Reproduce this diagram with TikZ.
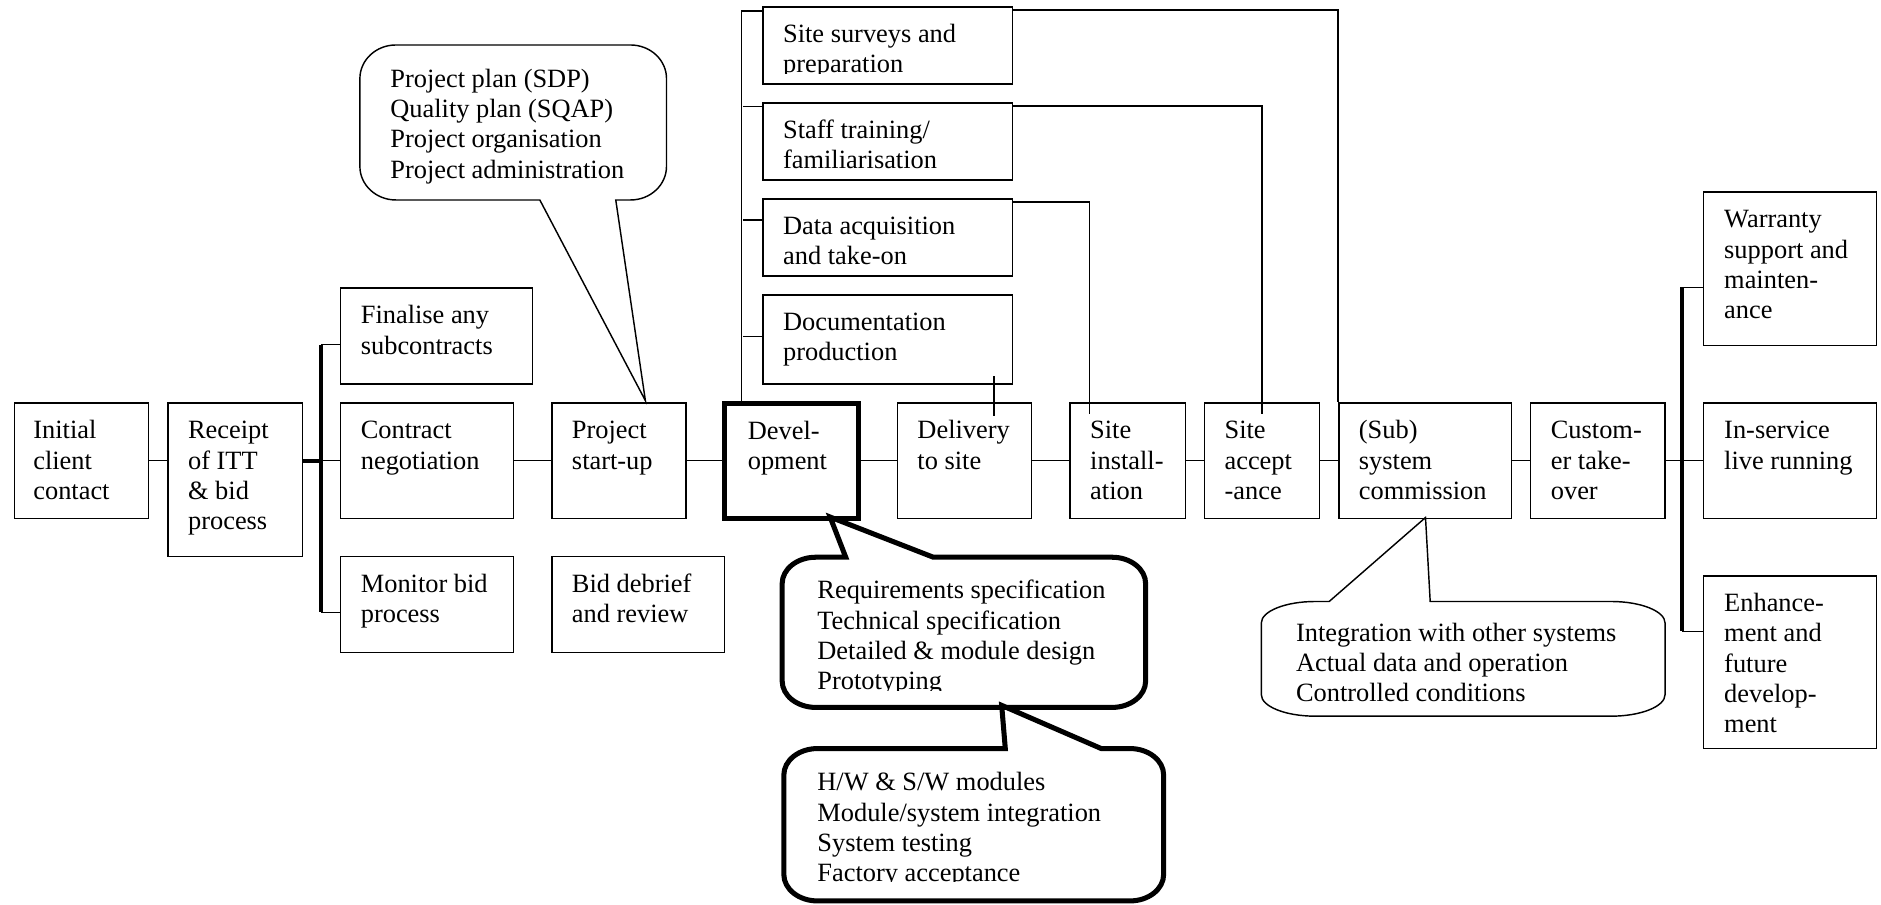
\documentclass[tikz,border=0pt]{standalone}
\usepackage{fontspec}
\setmainfont{Liberation Serif}
\usetikzlibrary{fit}
\newcommand{\mycallout}[9][]{%
  \draw[#1] ({#2+#6},#3) #8 -- ({#4-#6},#3)
    .. controls ({#4-0.448*#6},#3) and (#4,{#3+0.448*#7}) .. (#4,{#3+#7})
    -- (#4,{#5-#7})
    .. controls (#4,{#5-0.448*#7}) and ({#4-0.448*#6},#5) .. ({#4-#6},#5) #9
    -- ({#2+#6},#5)
    .. controls ({#2+0.448*#6},#5) and (#2,{#5-0.448*#7}) .. (#2,{#5-#7})
    -- (#2,{#3+#7})
    .. controls (#2,{#3+0.448*#7}) and ({#2+0.448*#6},#3) .. ({#2+#6},#3) -- cycle;}
\begin{document}
\begin{tikzpicture}[x=0.5pt,y=-0.5pt,
  box/.style={draw, line width=0.6pt, inner sep=0pt},
  devbox/.style={draw, line width=2.1pt, inner sep=0pt},
  txt/.style={anchor=north west, inner sep=0pt, align=left, font=\fontsize{11pt}{12.65pt}\selectfont},
  conn/.style={line width=0.5pt},
  brk/.style={line width=1.7pt},
  thincall/.style={line width=0.6pt, line join=miter},
  thickcall/.style={line width=2.1pt, line join=miter}]
\fill[white] (0,0) rectangle (1568,754);
\useasboundingbox (0,0) rectangle (1568,754);

% ---------- boxes ----------
\node[box, fit={(12,336) (124,432)}] (init) {};
\node[txt] (init-t) at ([xshift=8pt,yshift=-6pt]init.north west) {\rule{0pt}{9pt}Initial\\client\\contact};
\node[box, fit={(140,336) (252,464)}] (rcpt) {};
\node[txt] (rcpt-t) at ([xshift=8.5pt,yshift=-6pt]rcpt.north west) {\rule{0pt}{9pt}Receipt\\of ITT\\\& bid\\process};
\node[box, fit={(284,240) (444,320)}] (fin) {};
\node[txt] (fin-t) at ([xshift=8.5pt,yshift=-6pt]fin.north west) {\rule{0pt}{9pt}Finalise any\\subcontracts};
\node[box, fit={(284,336) (428,432)}] (contr) {};
\node[txt] (contr-t) at ([xshift=8.5pt,yshift=-6pt]contr.north west) {\rule{0pt}{9pt}Contract\\negotiation};
\node[box, fit={(284,464) (428,544)}] (mon) {};
\node[txt] (mon-t) at ([xshift=8.5pt,yshift=-6pt]mon.north west) {\rule{0pt}{9pt}Monitor bid\\process};
\node[box, fit={(460,336) (572,432)}] (proj) {};
\node[txt] (proj-t) at ([xshift=8.5pt,yshift=-6pt]proj.north west) {\rule{0pt}{9pt}Project\\start-up};
\node[box, fit={(460,464) (604,544)}] (debr) {};
\node[txt] (debr-t) at ([xshift=8.5pt,yshift=-6pt]debr.north west) {\rule{0pt}{9pt}Bid debrief\\and review};
\node[devbox, fit={(604,336) (716,432)}] (dev) {};
\node[txt] (dev-t) at (623,348) {\rule{0pt}{9pt}Devel-\\opment};
\node[box, fit={(748,336) (860,432)}] (deliv) {};
\node[txt] (deliv-t) at ([xshift=8.5pt,yshift=-6pt]deliv.north west) {\rule{0pt}{9pt}Delivery\\to site};
\node[box, fit={(892,336) (988,432)}] (inst) {};
\node[txt] (inst-t) at ([xshift=8.5pt,yshift=-6pt]inst.north west) {\rule{0pt}{9pt}Site\\install-\\ation};
\node[box, fit={(1004,336) (1100,432)}] (acc) {};
\node[txt] (acc-t) at ([xshift=8.5pt,yshift=-6pt]acc.north west) {\rule{0pt}{9pt}Site\\accept\\-ance};
\node[box, fit={(1116,336) (1260,432)}] (comm) {};
\node[txt] (comm-t) at ([xshift=8.5pt,yshift=-6pt]comm.north west) {\rule{0pt}{9pt}(Sub)\\system\\commission};
\node[box, fit={(1276,336) (1388,432)}] (cust) {};
\node[txt] (cust-t) at ([xshift=8.5pt,yshift=-6pt]cust.north west) {\rule{0pt}{9pt}Custom-\\er take-\\over};
\node[box, fit={(1420,160) (1564,288)}] (warr) {};
\node[txt] (warr-t) at ([xshift=8.75pt,yshift=-6pt]warr.north west) {\rule{0pt}{9pt}Warranty\\support and\\mainten-\\ance};
\node[box, fit={(1420,336) (1564,432)}] (insv) {};
\node[txt] (insv-t) at ([xshift=8.75pt,yshift=-6pt]insv.north west) {\rule{0pt}{9pt}In-service\\live running};
\node[box, fit={(1420,480) (1564,624)}] (enh) {};
\node[txt] (enh-t) at ([xshift=8.75pt,yshift=-6pt]enh.north west) {\rule{0pt}{9pt}Enhance-\\ment and\\future\\develop-\\ment};

\node[box, fit={(636,6) (844,70)}] (surv) {};
\begin{scope}
\clip (636,6) rectangle (844,61.5);
\node[txt] (surv-t) at ([xshift=8.5pt,yshift=-5.75pt]surv.north west) {\rule{0pt}{9pt}Site surveys and\\preparation};
\end{scope}
\node[box, fit={(636,86) (844,150)}] (staff) {};
\node[txt] (staff-t) at ([xshift=8.5pt,yshift=-5.75pt]staff.north west) {\rule{0pt}{9pt}Staff training/\\familiarisation};
\node[box, fit={(636,166) (844,230)}] (data) {};
\node[txt] (data-t) at ([xshift=8.5pt,yshift=-5.75pt]data.north west) {\rule{0pt}{9pt}Data acquisition\\and take-on};
\node[box, fit={(636,246) (844,320)}] (doc) {};
\node[txt] (doc-t) at ([xshift=8.5pt,yshift=-5.75pt]doc.north west) {\rule{0pt}{9pt}Documentation\\production};

% ---------- connectors: main row ----------
\draw[conn] (init.east) -- (init.east -| rcpt.west);
\coordinate (bl) at ([xshift=-8pt]contr.west);
\draw[brk] (bl -| rcpt.east) -- (bl);
\draw[brk] ([xshift=-8pt,yshift=-24pt]fin.north west) -- ([xshift=-8pt,yshift=-23.5pt]mon.north west);
\draw[conn] ([yshift=-24pt]fin.north west) -- ++(-16,0);
\draw[conn] (bl) -- (contr.west);
\draw[conn] ([yshift=-23.5pt]mon.north west) -- ++(-16,0);
\draw[conn] (contr.east) -- (proj.west);
\draw[conn] (proj.east) -- (dev.west);
\draw[conn] (dev.east) -- (deliv.west);
\draw[conn] (deliv.east) -- (inst.west);
\draw[conn] (inst.east) -- (acc.west);
\draw[conn] (acc.east) -- (comm.west);
\draw[conn] (comm.east) -- (cust.west);
\draw[conn] (cust.east) -- (insv.west);
\draw[brk] ([xshift=-8.5pt,yshift=-40pt]warr.north west) -- ([xshift=-8.5pt,yshift=-23.5pt]enh.north west);
\draw[conn] ([yshift=-40pt]warr.north west) -- ++(-17,0);
\draw[conn] ([yshift=-23.5pt]enh.north west) -- ++(-17,0);

% ---------- connectors: top cluster ----------
\coordinate (tk) at ([xshift=8pt]dev.north west);
\draw[conn] (tk) |- ([yshift=-1.85pt]surv.north west);
\draw[conn] ([yshift=-1.7pt]staff.north west) -- ++(-16,0);
\draw[conn] ([yshift=-9pt]data.north west) -- ++(-16,0);
\draw[conn] ([yshift=-17.5pt]doc.north west) -- ++(-16,0);
\draw[conn] ([yshift=-1.5pt]surv.north east) -| (comm.north west);
\draw[conn] ([yshift=-1.5pt]staff.north east) -| ([yshift=-5pt]acc.north);
\draw[conn] ([yshift=-1.5pt]data.north east) -| ([xshift=-16pt,yshift=-5pt]inst.north);
\draw[conn] ([xshift=-8pt,yshift=3.5pt]doc.south east) -- ++(0,33.5);

% ---------- callouts ----------
\mycallout[thincall]{300}{37.5}{555.6}{166.7}{30}{28}{}{-- (513.3,166.7) -- (538,334) -- (450,166.7)}
\node[txt] (plan-t) at (325,54.3) {\rule{0pt}{9pt}Project plan (SDP)\\Quality plan (SQAP)\\Project organisation\\Project administration};

\mycallout[thickcall]{652}{464.5}{955}{589.7}{28}{22}{-- (705,464.5) -- (692,431) -- (778,464.5)}{}
\begin{scope}
\clip (660,470) rectangle (950,575.5);
\node[txt] (req-t) at (681,480.8) {\rule{0pt}{9pt}Requirements specification\\Technical specification\\Detailed \& module design\\Prototyping};
\end{scope}

\mycallout[thickcall]{653.4}{624}{970}{751}{28}{22}{-- (838,624) -- (835,588) -- (918,624)}{}
\begin{scope}
\clip (660,630) rectangle (965,735);
\node[txt] (hw-t) at (681,640.8) {\rule{0pt}{9pt}H/W \& S/W modules\\Module/system integration\\System testing\\Factory acceptance};
\end{scope}

\mycallout[thincall]{1051.4}{501.4}{1388}{597}{45}{18}{-- (1108,501.4) -- (1188.3,431.4) -- (1192.2,501.4)}{}
\node[txt] (int-t) at (1080,516) {\rule{0pt}{9pt}Integration with other systems\\Actual data and operation\\Controlled conditions};
\end{tikzpicture}
\end{document}
